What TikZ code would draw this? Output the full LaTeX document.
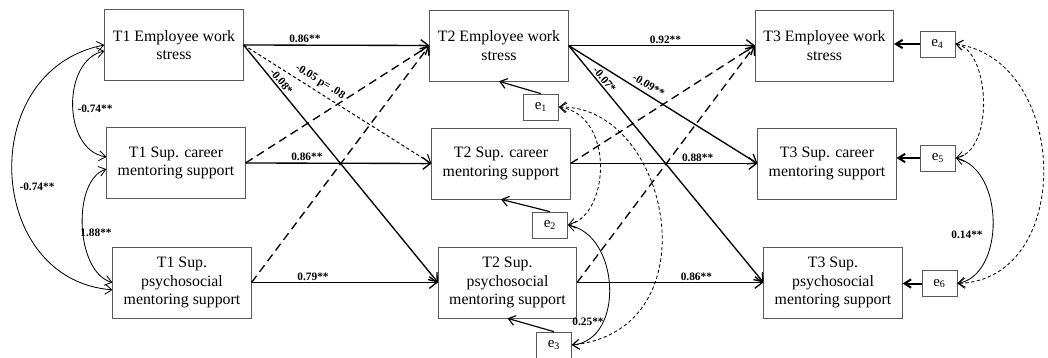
\documentclass[tikz,border=0pt]{standalone}
\usepackage{fontspec}
\setmainfont{Liberation Serif}
\usetikzlibrary{arrows.meta}

\tikzset{
  var/.style={draw=black!65, line width=0.5pt, minimum width=83pt, minimum height=42.5pt,
    align=center, inner sep=1pt, font=\fontsize{9.5}{11.2}\selectfont},
  err/.style={draw=black!65, line width=0.5pt, minimum width=21pt, minimum height=15.5pt,
    inner sep=0pt, font=\fontsize{9}{10}\selectfont},
  coef/.style={inner sep=1pt, font=\fontsize{6.8}{8}\selectfont\bfseries},
  reg/.style={-{Straight Barb[length=4.5pt,width=7pt]}, line width=0.8pt},
  longdash/.style={reg, dash pattern=on 5pt off 3pt},
  shortdash/.style={reg, line width=0.6pt, dash pattern=on 2pt off 1.5pt},
  cov/.style={{Straight Barb[length=4pt,width=6pt]}-{Straight Barb[length=4pt,width=6pt]}, line width=0.5pt},
  covdash/.style={cov, dash pattern=on 2pt off 1.5pt},
  res/.style={-{Straight Barb[length=4pt,width=6pt]}, line width=0.7pt},
  resthick/.style={-{Straight Barb[length=4pt,width=5pt]}, line width=1.2pt}
}

\begin{document}
\begin{tikzpicture}[x=0.6pt, y=-0.6pt]

  \useasboundingbox (0,0) rectangle (1048,358);

  % Variables at the three waves
  \node[var] (T1ES) at (174,45)    {T1 Employee work\\stress};
  \node[var] (T1C)  at (176,163)   {T1 Sup. career\\mentoring support};
  \node[var] (T1P)  at (182,282.5) {T1 Sup.\\psychosocial\\mentoring support};

  \node[var] (T2ES) at (499,45.5)   {T2 Employee work\\stress};
  \node[var] (T2C)  at (501,163.5)  {T2 Sup. career\\mentoring support};
  \node[var] (T2P)  at (507.5,282.5) {T2 Sup.\\psychosocial\\mentoring support};

  \node[var] (T3ES) at (824.5,45.5) {T3 Employee work\\stress};
  \node[var] (T3C)  at (827,163.5)  {T3 Sup. career\\mentoring support};
  \node[var] (T3P)  at (833,282.5)  {T3 Sup.\\psychosocial\\mentoring support};

  % Residuals
  \node[err] (e1) at (541,107)   {e\textsubscript{1}};
  \node[err] (e2) at (550,225)   {e\textsubscript{2}};
  \node[err] (e3) at (554,345)   {e\textsubscript{3}};
  \node[err] (e4) at (937.5,44)  {e\textsubscript{4}};
  \node[err] (e5) at (938,158)   {e\textsubscript{5}};
  \node[err] (e6) at (939.5,283.5) {e\textsubscript{6}};

  % T1 -> T2
  \draw[reg] (T1ES.east) -- node[coef, above, pos=0.33] {0.86**} (T2ES.west);
  \draw[shortdash] (T1ES.east) -- node[coef, sloped, above=1.5pt, pos=0.38] {-0.05 p= .08} (T2C.west);
  \draw[reg] (T1ES.east) -- node[coef, sloped, above, pos=0.17] {-0.08*} (T2P.west);
  \draw[reg] (T1C.east) -- node[coef, above, pos=0.33] {0.86**} (T2C.west);
  \draw[longdash] (T1C.east) -- (T2ES.west);
  \draw[reg] (T1P.east) -- node[coef, above, pos=0.33] {0.79**} (T2P.west);
  \draw[longdash] (T1P.east) -- (T2ES.west);

  % T2 -> T3
  \draw[reg] (T2ES.east) -- node[coef, above, pos=0.52] {0.92**} (T3ES.west);
  \draw[reg] (T2ES.east) -- node[coef, sloped, above=1.5pt, pos=0.4] {-0.09**} (T3C.west);
  \draw[reg] (T2ES.east) -- node[coef, sloped, above, pos=0.16] {-0.07*} (T3P.west);
  \draw[reg] (T2C.east) -- node[coef, above, pos=0.68] {0.88**} (T3C.west);
  \draw[longdash] (T2C.east) -- (T3ES.west);
  \draw[reg] (T2P.east) -- node[coef, above, pos=0.64] {0.86**} (T3P.west);
  \draw[longdash] (T2P.east) -- (T3ES.west);

  % Residual arrows
  \draw[res] (e1.north) -- (T2ES.south);
  \draw[res] (e2.north) -- (T2C.south);
  \draw[res] (e3.north) -- (T2P.south);
  \draw[resthick] (e4.west) -- (e4.west -| T3ES.east);
  \draw[resthick] (e5.west) -- (e5.west -| T3C.east);
  \draw[resthick] (e6.west) -- (e6.west -| T3P.east);

  % Covariances at T1
  \draw[cov] (T1ES.185) .. controls (62,60) and (62,150) .. (T1C.175);
  \draw[cov] (T1C.185) .. controls (72,180) and (75,272) .. (T1P.west);
  \draw[cov] (T1ES.west) .. controls (-25,70) and (-15,280) .. (T1P.186);
  \node[coef] (c1) at (95,109) {-0.74**};
  \node[coef] (c2) at (96,233) {1.88**};
  \node[coef] (c3) at (37,187) {-0.74**};

  % Covariances between residuals
  \draw[covdash] (e1.east) .. controls (615,115) and (610,215) .. (e2.east);
  \draw[covdash] (e1.east) .. controls (670,105) and (715,330) .. (e3.east);
  \draw[cov] (e2.east) .. controls (620,235) and (625,340) .. (e3.east);
  \node[coef] (c4) at (588,322) {0.25**};

  \draw[covdash] (e4.east) .. controls (990,50) and (995,150) .. (e5.east);
  \draw[cov] (e5.east) .. controls (1005,170) and (1005,275) .. (e6.east);
  \draw[covdash] (e4.east) .. controls (1070,60) and (1075,280) .. (e6.east);
  \node[coef] (c5) at (967,235) {0.14**};

\end{tikzpicture}
\end{document}
